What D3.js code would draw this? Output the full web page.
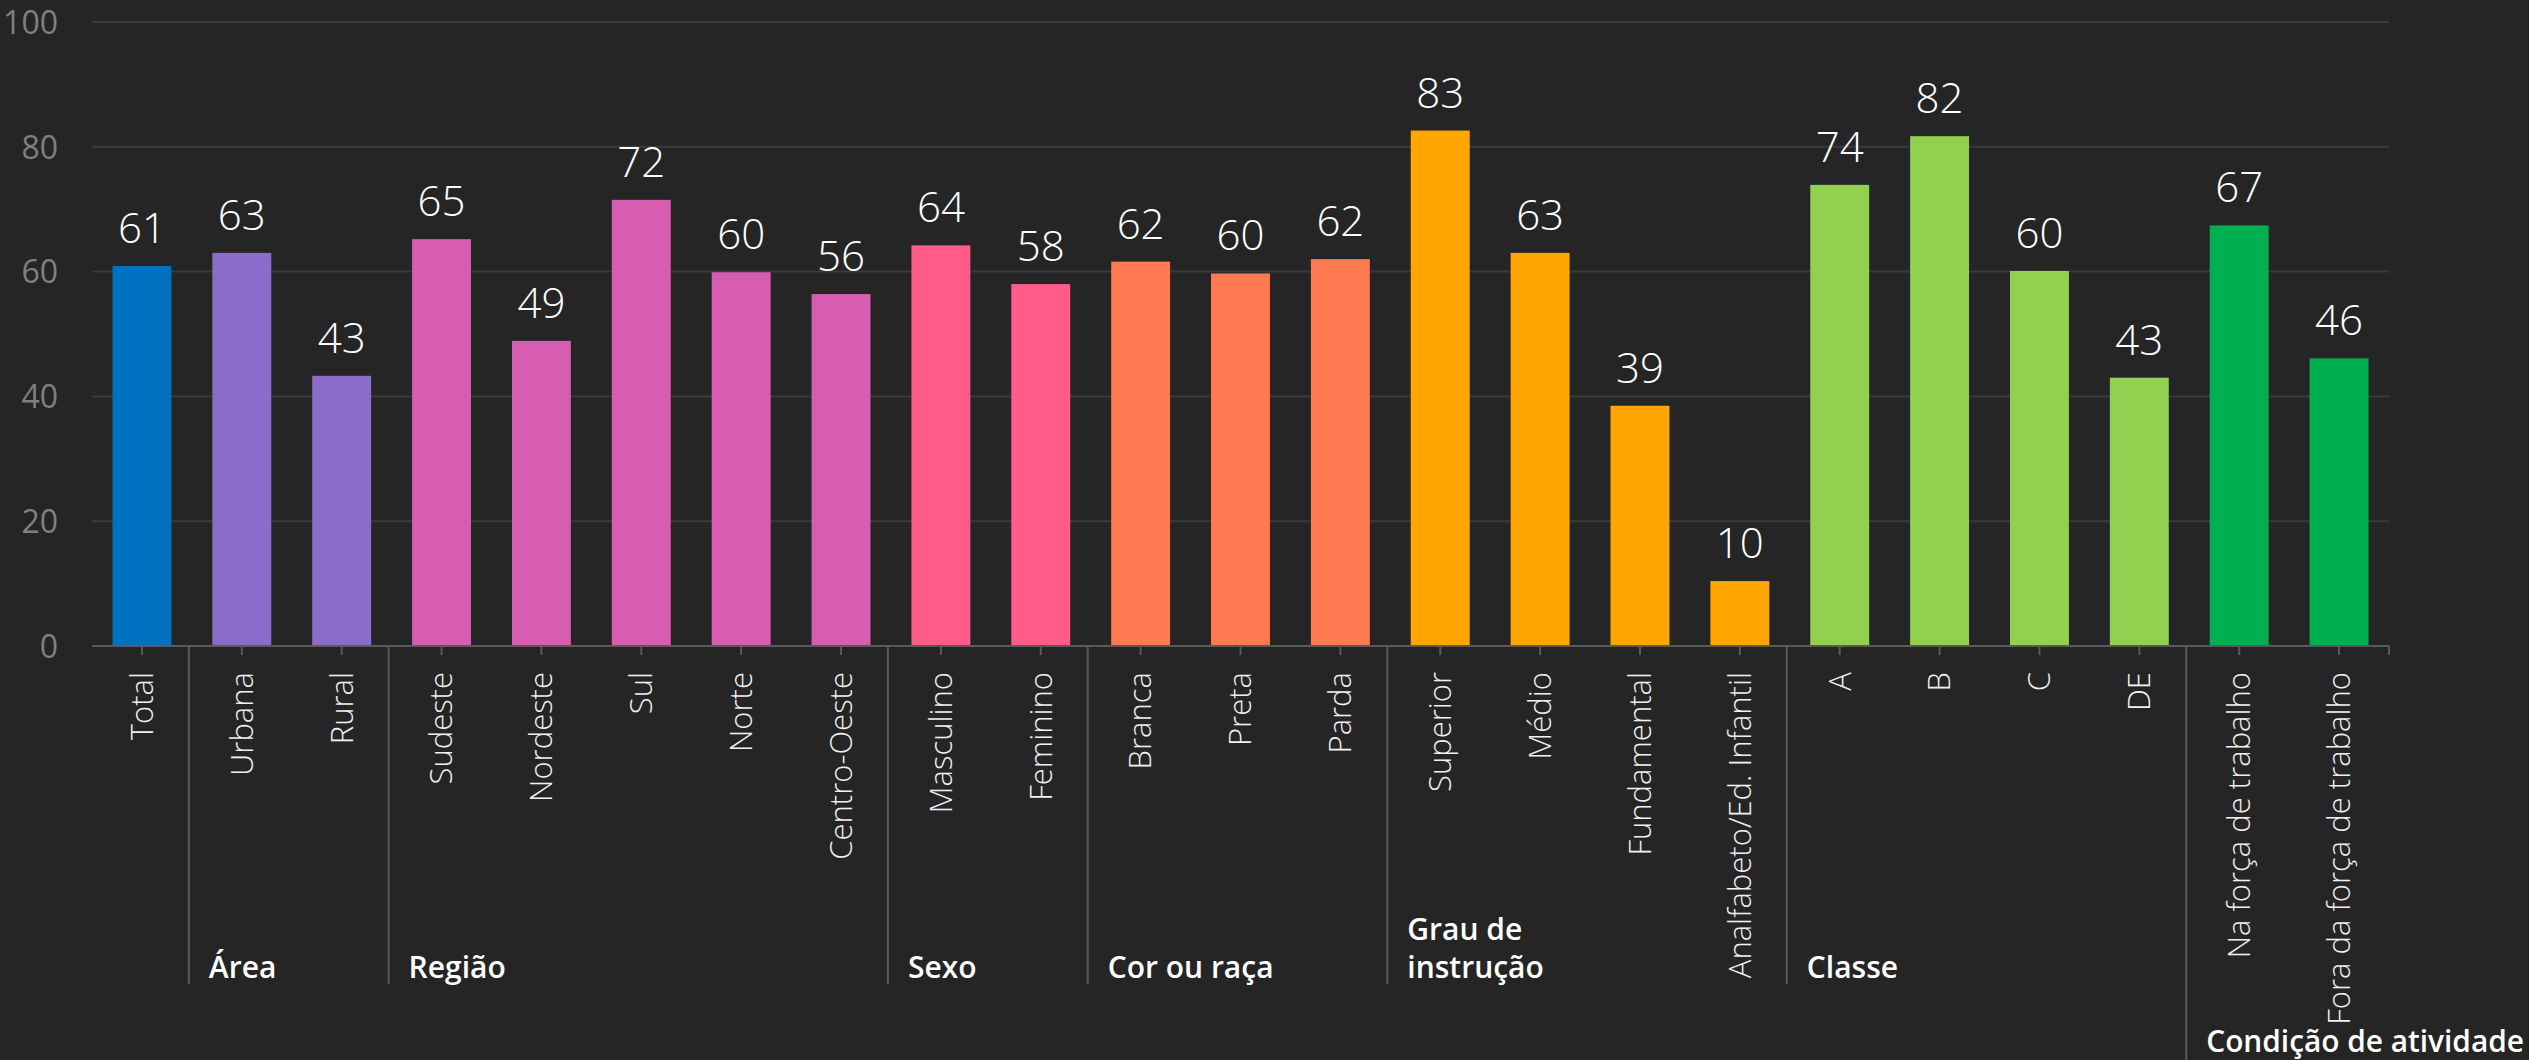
<!DOCTYPE html>
<html><head><meta charset="utf-8">
<script src="https://cdn.jsdelivr.net/npm/d3@7/dist/d3.min.js"></script>
<style>
html,body{margin:0;padding:0;background:#252525;}
svg{display:block;}
</style></head>
<body>
<svg id="chart" width="2529" height="1060"></svg>
<script>
const categories = ["Total","Urbana","Rural","Sudeste","Nordeste","Sul","Norte","Centro-Oeste","Masculino","Feminino","Branca","Preta","Parda","Superior","Médio","Fundamental","Analfabeto/Ed. Infantil","A","B","C","DE","Na força de trabalho","Fora da força de trabalho"];
const values = [60.9,63.0,43.3,65.2,48.9,71.5,59.9,56.4,64.2,58.0,61.6,59.7,62.0,82.6,63.0,38.5,10.4,73.9,81.7,60.1,43.0,67.4,46.1];
const groupOf = [0,1,1,2,2,2,2,2,3,3,4,4,4,5,5,5,5,6,6,6,6,7,7];
const groupLabels = [[""],["Área"],["Região"],["Sexo"],["Cor ou raça"],["Grau de","instrução"],["Classe"],["Condição de atividade"]];
const groupColors = ["#0070C0","#8B6CC8","#D65DB1","#FF5C8A","#FF7A50","#FFA600","#92D050","#00B050"];
const yTicks = [0,20,40,60,80,100];

const FONT = "'Segoe UI','Open Sans','Noto Sans',sans-serif";
const svg = d3.select("#chart");
svg.append("rect").attr("width",2529).attr("height",1060).attr("fill","#252525");

const plotLeft = 92, plotRight = 2389, plotTop = 22, plotBase = 646;
const pad = 0.41;
const x = d3.scaleBand().domain(categories).range([plotLeft,plotRight]).paddingInner(pad).paddingOuter(pad/2);
const y = d3.scaleLinear().domain([0,100]).range([plotBase,plotTop]);
const step = x.step();

// gridlines
svg.append("g").selectAll("line").data(yTicks.filter(t=>t>0)).join("line")
  .attr("x1",plotLeft).attr("x2",plotRight).attr("y1",d=>y(d)).attr("y2",d=>y(d))
  .attr("stroke","#3b3b3b").attr("stroke-width",2);

// y axis labels
const yAxis = d3.axisLeft(y).tickValues(yTicks).tickSize(0).tickPadding(0);
const gy = svg.append("g").attr("transform","translate(58,0)").call(yAxis);
gy.select(".domain").remove();
gy.selectAll("text").attr("fill","#808080").attr("font-size",32).attr("font-family",FONT).attr("font-weight",400).attr("dy","0.35em");

// bars
svg.append("g").selectAll("rect").data(categories).join("rect")
  .attr("x",d=>x(d)).attr("width",x.bandwidth())
  .attr("y",(d,i)=>y(values[i])).attr("height",(d,i)=>plotBase-y(values[i]))
  .attr("fill",(d,i)=>groupColors[groupOf[i]]);

// value labels
svg.append("g").selectAll("text").data(categories).join("text")
  .attr("x",d=>x(d)+x.bandwidth()/2).attr("y",(d,i)=>y(values[i])-23)
  .attr("text-anchor","middle").attr("fill","#ffffff")
  .attr("font-family",FONT).attr("font-weight",300).attr("font-size",42)
  .text((d,i)=>Math.round(values[i]));

// x axis
const xAxis = d3.axisBottom(x).tickSize(9).tickPadding(0).tickSizeOuter(0);
const gx = svg.append("g").attr("transform",`translate(0,${plotBase})`).call(xAxis);
gx.select(".domain").attr("stroke","#5a5a5a").attr("stroke-width",2).attr("d",`M${plotLeft},0H${plotRight}V9`);
gx.selectAll(".tick line").attr("stroke","#5a5a5a").attr("stroke-width",2);
gx.selectAll(".tick text")
  .attr("transform","rotate(-90)").attr("x",-26).attr("y",0).attr("dy","0.35em")
  .attr("text-anchor","end").attr("fill","#f0f0f0")
  .attr("font-family",FONT).attr("font-weight",300).attr("font-size",31);

// group separators and labels
const groups = d3.range(1,groupLabels.length);
const gInfo = groups.map(g=>{
  const first = groupOf.indexOf(g);
  const sx = x(categories[first]) - step*pad/2 - 3;
  return {g, sx, last: g===groupLabels.length-1};
});
svg.append("g").selectAll("line").data(gInfo).join("line")
  .attr("x1",d=>d.sx).attr("x2",d=>d.sx).attr("y1",plotBase).attr("y2",d=>d.last?1060:984)
  .attr("stroke","#5a5a5a").attr("stroke-width",2);

const gl = svg.append("g").selectAll("text").data(gInfo).join("text")
  .attr("x",d=>d.sx+20).attr("y",d=>d.last?1052:978 - (groupLabels[d.g].length-1)*38)
  .attr("fill","#ffffff").attr("font-family",FONT).attr("font-weight",600).attr("font-size",30);
gl.each(function(d){
  const t = d3.select(this);
  groupLabels[d.g].forEach((line,k)=>{
    const ts = t.append("tspan").attr("x",d.sx+20).attr("dy",k===0?0:38).text(line);
    const maxW = 2524 - (d.sx+20);
    const w = ts.node().getComputedTextLength();
    if (w > maxW) ts.attr("textLength",maxW).attr("lengthAdjust","spacingAndGlyphs");
  });
});
</script>
</body></html>
